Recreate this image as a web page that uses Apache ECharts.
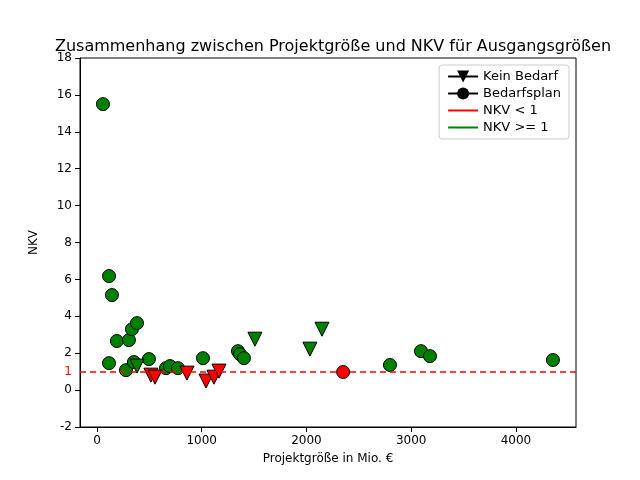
<!DOCTYPE html>
<html>
<head>
<meta charset="utf-8">
<script src="https://cdn.jsdelivr.net/npm/echarts@6/dist/echarts.min.js"></script>
<style>html,body{margin:0;padding:0;background:#fff}#chart{width:640px;height:480px}</style>
</head>
<body>
<div id="chart"></div>
<script>
// Bedarfsplan (Kreise): [Projektgröße, NKV]
var bedarfGreen = [[57,15.5],[115,6.18],[143,5.15],[115,1.46],[190,2.66],[305,2.71],[334,3.3],[382,3.63],
    [277,1.08],[353,1.52],[496,1.68],[659,1.19],[697,1.3],[773,1.19],[1012,1.73],[1346,2.11],[1365,1.95],
    [1403,1.73],[2797,1.36],[3093,2.11],[3179,1.84],[4353,1.63]];
var bedarfRed = [[2350,0.98]];
// Kein Bedarf (Dreiecke)
var keinGreen = [[382,1.3],[1508,2.76],[2033,2.22],[2148,3.3]];
var keinRed = [[515,0.81],[554,0.7],[859,0.92],[1041,0.49],[1117,0.7],[1165,1.03]];
var xTicks = [0,1000,2000,3000,4000];

var tri = 'path://M0,0L10,0L5,9Z';
var font = 'DejaVu Sans';

var chart = echarts.init(document.getElementById('chart'));
function sc(data, sym, color, size) {
    return {
        type: 'scatter', data: data, symbol: sym, symbolSize: size,
        itemStyle: {color: color, borderColor: '#000', borderWidth: 1, opacity: 1}
    };
}
var option = {
    animation: false,
    textStyle: {fontFamily: font},
    title: {
        text: 'Zusammenhang zwischen Projektgröße und NKV für Ausgangsgrößen',
        left: 328, textAlign: 'center', top: 34,
        textStyle: {fontFamily: font, fontSize: 16, fontWeight: 'normal', color: '#000'}
    },
    legend: {
        orient: 'vertical', right: 71, top: 65, itemGap: 4,
        borderColor: '#ccc', borderWidth: 1, borderRadius: 3, padding: [5, 8],
        itemWidth: 30, itemHeight: 15,
        textStyle: {fontFamily: font, fontSize: 13, color: '#000'},
        data: ['Kein Bedarf', 'Bedarfsplan',
            {name: 'NKV < 1', itemStyle: {opacity: 0}},
            {name: 'NKV >= 1', itemStyle: {opacity: 0}}]
    },
    grid: {left: 80, right: 64, top: 58, bottom: 53, show: true, borderColor: '#000', borderWidth: 1},
    xAxis: {
        type: 'value', min: -162, max: 4573,
        name: 'Projektgröße in Mio. €', nameLocation: 'middle', nameGap: 26,
        nameTextStyle: {fontFamily: font, fontSize: 12, color: '#000'},
        splitLine: {show: false},
        axisLine: {onZero: false, lineStyle: {color: '#000'}},
        axisTick: {show: true, customValues: xTicks, lineStyle: {color: '#000'}},
        axisLabel: {customValues: xTicks, color: '#000', fontSize: 12, formatter: function (v) { return String(v); }}
    },
    yAxis: {
        type: 'value', min: -2, max: 18, interval: 2,
        name: 'NKV', nameLocation: 'middle', nameGap: 40,
        nameTextStyle: {fontFamily: font, fontSize: 12, color: '#000'},
        splitLine: {show: false},
        axisLine: {show: true, onZero: false, lineStyle: {color: '#000'}},
        axisTick: {show: true, lineStyle: {color: '#000'}},
        axisLabel: {color: '#000', fontSize: 12}
    },
    series: [
        {name: 'Kein Bedarf', type: 'line', data: [], symbol: tri, symbolSize: 15,
            itemStyle: {color: '#000'}, lineStyle: {color: '#000'}},
        {name: 'Bedarfsplan', type: 'line', data: [], symbol: 'circle', symbolSize: 15,
            itemStyle: {color: '#000'}, lineStyle: {color: '#000'}},
        {name: 'NKV < 1', type: 'line', data: [], symbol: 'none', itemStyle: {color: 'red'}, lineStyle: {color: 'red'}},
        {name: 'NKV >= 1', type: 'line', data: [], symbol: 'none', itemStyle: {color: 'green'}, lineStyle: {color: 'green'}},
        Object.assign(sc(bedarfGreen, 'circle', 'green', 13), {
            markLine: {
                silent: true, symbol: 'none',
                lineStyle: {color: 'red', type: [6, 4], width: 1.5},
                label: {position: 'start', formatter: '1', color: 'red', fontSize: 12, distance: 8},
                data: [{yAxis: 1}]
            }
        }),
        sc(bedarfRed, 'circle', 'red', 13),
        sc(keinGreen, tri, 'green', 14),
        sc(keinRed, tri, 'red', 14)
    ]
};
chart.setOption(option);
</script>
</body>
</html>
